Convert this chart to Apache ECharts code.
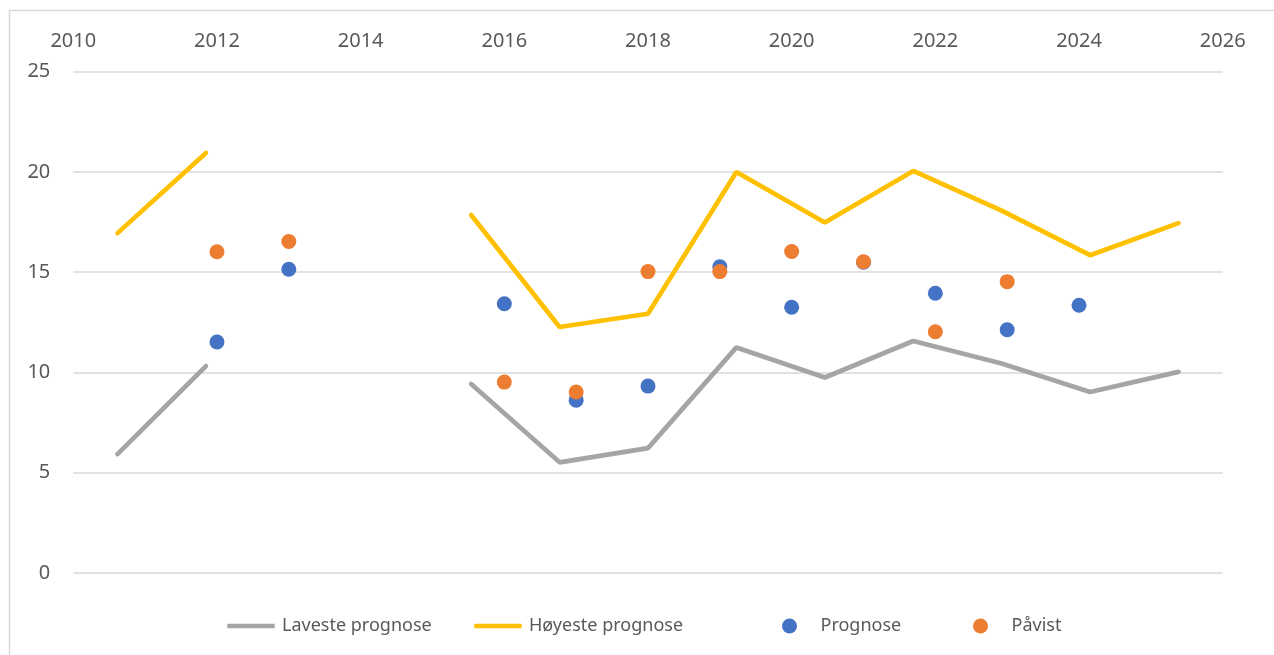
<!DOCTYPE html>
<html lang="no">
<head>
<meta charset="UTF-8">
<title>Prognose</title>
<script src="https://cdn.jsdelivr.net/npm/echarts@6/dist/echarts.min.js"></script>
<style>
    html,body{margin:0;height:100%;background:#fff;}
    #main{width:1274px;height:655px;}
</style>
</head>
<body>
<div id="main"></div>
<script>
    // linjene ligger på 13 like brede plasser langs x-aksen
    var linjePlass = ['1','2','3','4','5','6','7','8','9','10','11','12','13'];
    var laveste = [5.93, 10.32, null, null, 9.43, 5.52, 6.23, 11.25, 9.75, 11.57, 10.45, 9.03, 10.03];
    var hoyeste = [16.95, 20.95, null, null, 17.85, 12.27, 12.93, 20.0, 17.48, 20.05, 18.07, 15.85, 17.45];

    // punktene
    var prognoseAar = [2012, 2013, 2016, 2017, 2018, 2019, 2020, 2021, 2022, 2023, 2024];
    var prognose = [11.52, 15.15, 13.43, 8.62, 9.32, 15.27, 13.25, 15.5, 13.95, 12.13, 13.35];
    var pavistAar = [2012, 2013, 2016, 2017, 2018, 2019, 2020, 2021, 2022, 2023];
    var pavist = [16.02, 16.53, 9.52, 9.03, 15.03, 15.03, 16.03, 15.52, 12.03, 14.53];

    function par(xs, ys) {
        var out = [];
        for (var i = 0; i < xs.length; i++) out.push([xs[i], ys[i]]);
        return out;
    }

    var tekst = '#595959';
    var font = 'Noto Sans';
    // tykk strek midt i en 52x15 boks (de tomme punktene holder boksen)
    var strek = 'path://M0,0L0,0M52,15L52,15M2.3,5.2L49.7,5.2L49.7,9.8L2.3,9.8Z';

    function legende(navn, venstre, ikon) {
        return {
            left: venstre, top: 612,
            itemWidth: 52, itemHeight: 15, itemGap: 0,
            textStyle: {color: tekst, fontFamily: font, fontSize: 18},
            data: [{name: navn, icon: ikon}]
        };
    }

    var myChart = echarts.init(document.getElementById('main'));
    var option = {
        animation: false,
        backgroundColor: '#fff',
        graphic: [{
            type: 'rect',
            shape: {x: 9.5, y: 10.5, width: 1400, height: 800},
            style: {fill: null, stroke: '#d9d9d9', lineWidth: 1.5},
            silent: true
        }],
        grid: {left: 73.3, right: 51.3, top: 71.7, bottom: 82},
        legend: [
            legende('Laveste prognose', 220, strek),
            legende('Høyeste prognose', 467, strek),
            legende('Prognose', 777, 'circle'),
            legende('Påvist', 968, 'circle')
        ],
        xAxis: [{
            type: 'value', position: 'top',
            min: 2010, max: 2026, interval: 2,
            axisLine: {show: false}, axisTick: {show: false}, splitLine: {show: false},
            axisLabel: {
                color: tekst, fontFamily: font, fontSize: 20, margin: 20,
                formatter: function (v) { return String(v); }
            }
        }, {
            type: 'category', show: false, boundaryGap: true,
            position: 'bottom', data: linjePlass
        }],
        yAxis: {
            type: 'value', min: 0, max: 25, interval: 5,
            axisLine: {show: false}, axisTick: {show: false},
            splitLine: {lineStyle: {color: '#d9d9d9', width: 1.5}},
            axisLabel: {color: tekst, fontFamily: font, fontSize: 20, margin: 23}
        },
        series: [{
            name: 'Laveste prognose', type: 'line', xAxisIndex: 1,
            data: laveste, symbol: 'none', connectNulls: false,
            lineStyle: {color: '#a5a5a5', width: 4.7, cap: 'round'},
            itemStyle: {color: '#a5a5a5'}
        }, {
            name: 'Høyeste prognose', type: 'line', xAxisIndex: 1,
            data: hoyeste, symbol: 'none', connectNulls: false,
            lineStyle: {color: '#ffc000', width: 4.7, cap: 'round'},
            itemStyle: {color: '#ffc000'}
        }, {
            name: 'Prognose', type: 'scatter', xAxisIndex: 0,
            data: par(prognoseAar, prognose), symbolSize: 15,
            itemStyle: {color: '#4472c4', opacity: 1}
        }, {
            name: 'Påvist', type: 'scatter', xAxisIndex: 0,
            data: par(pavistAar, pavist), symbolSize: 15,
            itemStyle: {color: '#ed7d31', opacity: 1}
        }]
    };
    myChart.setOption(option);
</script>
</body>
</html>
